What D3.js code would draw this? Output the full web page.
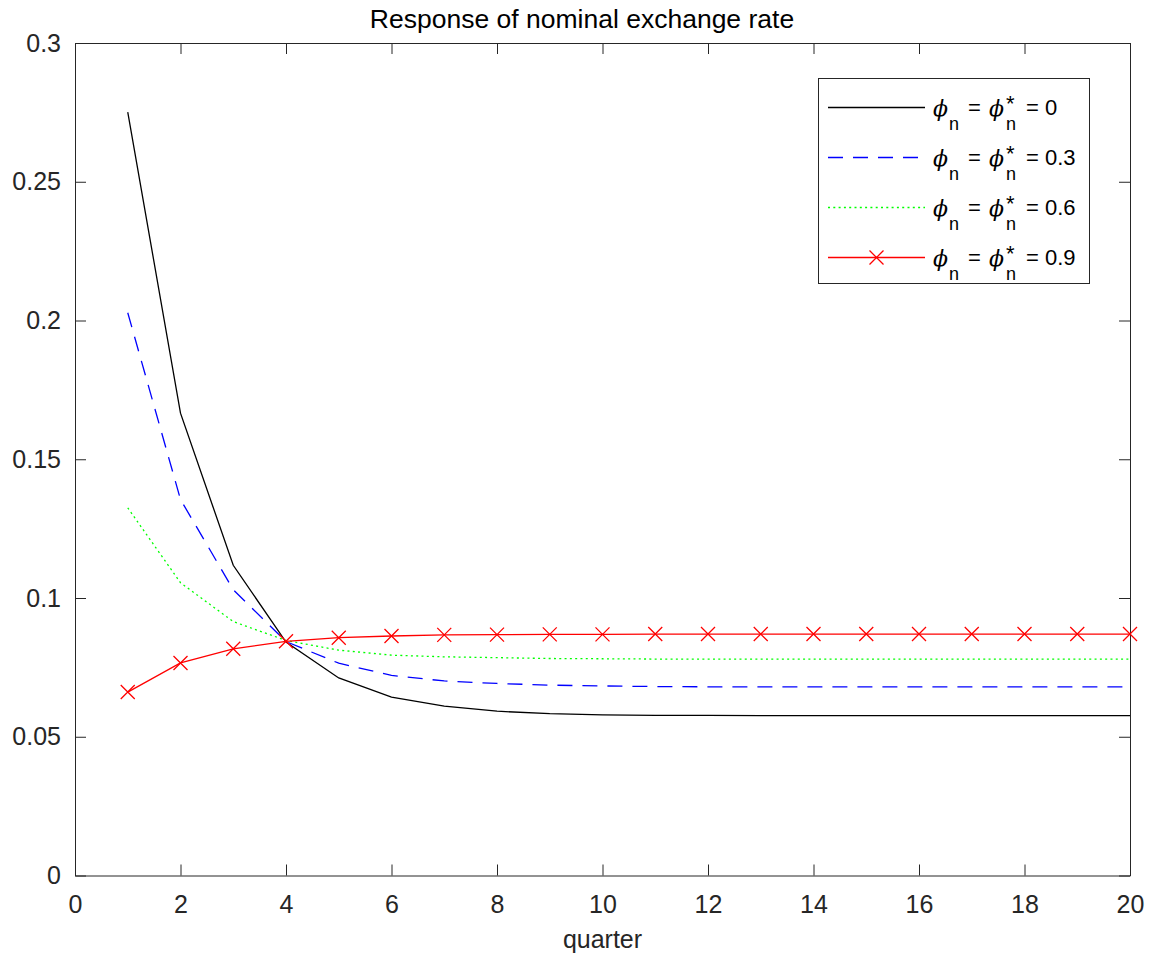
<!DOCTYPE html>
<html>
<head>
<meta charset="utf-8">
<script src="https://cdn.jsdelivr.net/npm/d3@7"></script>
<style>
	body { margin: 0; background: #fff; }
	text { font-family: "Liberation Sans", Arial, sans-serif; fill: #000; }
	.axis text { fill: #262626; font-size: 25px; }
	.axis path, .axis line { stroke: #262626; stroke-width: 1; }
</style>
</head>
<body>
<div id="chart"></div>
<script>
//data
var quarters = [1,2,3,4,5,6,7,8,9,10,11,12,13,14,15,16,17,18,19,20],
	phi0 = [0.2751, 0.1666, 0.1118, 0.0841, 0.0712, 0.0643, 0.0610, 0.0592, 0.0583, 0.0579, 0.0577, 0.0577, 0.0576, 0.0576, 0.0576, 0.0576, 0.0576, 0.0576, 0.0576, 0.0576],
	phi3 = [0.2028, 0.1355, 0.1030, 0.0843, 0.0765, 0.0721, 0.0701, 0.0692, 0.0686, 0.0683, 0.0681, 0.0680, 0.0680, 0.0680, 0.0680, 0.0680, 0.0680, 0.0680, 0.0680, 0.0680],
	phi6 = [0.1325, 0.1055, 0.0915, 0.0847, 0.0812, 0.0794, 0.0788, 0.0785, 0.0782, 0.0781, 0.0780, 0.0780, 0.0780, 0.0780, 0.0780, 0.0780, 0.0780, 0.0780, 0.0780, 0.0780],
	phi9 = [0.0661, 0.0766, 0.0817, 0.0844, 0.0857, 0.0863, 0.0867, 0.0868, 0.0869, 0.0869, 0.0870, 0.0870, 0.0870, 0.0870, 0.0870, 0.0870, 0.0870, 0.0870, 0.0870, 0.0870],
	seriesLabels = ["0", "0.3", "0.6", "0.9"],
	xTicks = [0,2,4,6,8,10,12,14,16,18,20],
	yTicks = [0, 0.05, 0.1, 0.15, 0.2, 0.25, 0.3];

var series = [
	{vals: phi0, color: "#000000", dash: null, marker: false},
	{vals: phi3, color: "#0000ff", dash: "15,10", marker: false},
	{vals: phi6, color: "#00ff00", dash: "2,3.3", marker: false},
	{vals: phi9, color: "#ff0000", dash: null, marker: true}
];

//frame
var chartWidth = 1154,
	chartHeight = 962,
	plotLeft = 75,
	plotRight = 1130,
	plotTop = 43,
	plotBottom = 875.5;

var x = d3.scaleLinear().domain([0, 20]).range([plotLeft, plotRight]);
var y = d3.scaleLinear().domain([0, 0.3]).range([plotBottom, plotTop]);

var svg = d3.select("#chart")
	.append("svg")
		.attr("width", chartWidth)
		.attr("height", chartHeight);

//axes, ticks point inward on all four sides
svg.append("g")
	.attr("class", "axis")
	.attr("transform", "translate(0," + plotBottom + ")")
	.call(d3.axisBottom(x).tickValues(xTicks).tickSize(-11).tickSizeOuter(0).tickPadding(20));
svg.append("g")
	.attr("class", "axis")
	.attr("transform", "translate(0," + plotTop + ")")
	.call(d3.axisTop(x).tickValues(xTicks).tickSize(-11).tickSizeOuter(0).tickFormat(""));
svg.append("g")
	.attr("class", "axis")
	.attr("transform", "translate(" + plotLeft + ",0)")
	.call(d3.axisLeft(y).tickValues(yTicks).tickSize(-11).tickSizeOuter(0).tickPadding(14).tickFormat(d3.format("")));
svg.append("g")
	.attr("class", "axis")
	.attr("transform", "translate(" + plotRight + ",0)")
	.call(d3.axisRight(y).tickValues(yTicks).tickSize(-11).tickSizeOuter(0).tickFormat(""));

svg.selectAll(".axis text").attr("font-family", "Liberation Sans, Arial, sans-serif");

//title and x label
svg.append("text")
	.attr("x", 582)
	.attr("y", 28)
	.attr("text-anchor", "middle")
	.style("font-size", "26.5px")
	.text("Response of nominal exchange rate");

svg.append("text")
	.attr("x", (plotLeft + plotRight) / 2)
	.attr("y", 948)
	.attr("text-anchor", "middle")
	.style("font-size", "25px")
	.style("fill", "#262626")
	.text("quarter");

//lines
var line = d3.line()
	.x(function(d, i) { return x(quarters[i]); })
	.y(function(d) { return y(d); });

var xMark = "M-7,-7L7,7M-7,7L7,-7";

series.forEach(function(s) {
	svg.append("path")
		.datum(s.vals)
		.attr("d", line)
		.attr("fill", "none")
		.attr("stroke", s.color)
		.attr("stroke-width", 1.3)
		.attr("stroke-dasharray", s.dash);
	if (s.marker) {
		svg.selectAll(null)
			.data(s.vals)
			.enter()
			.append("path")
				.attr("d", xMark)
				.attr("transform", function(d, i) { return "translate(" + x(quarters[i]) + "," + y(d) + ")"; })
				.attr("fill", "none")
				.attr("stroke", s.color)
				.attr("stroke-width", 1.3);
	}
});

//legend
var legend = svg.append("g");
legend.append("rect")
	.attr("x", 818.5)
	.attr("y", 78.5)
	.attr("width", 271)
	.attr("height", 205)
	.attr("fill", "#fff")
	.attr("stroke", "#262626")
	.attr("stroke-width", 1);

series.forEach(function(s, i) {
	var ly = 107.5 + i * 50,
		b = ly + 7; //text baseline
	legend.append("line")
		.attr("x1", 828).attr("x2", 925)
		.attr("y1", ly).attr("y2", ly)
		.attr("stroke", s.color)
		.attr("stroke-width", 1.3)
		.attr("stroke-dasharray", s.dash);
	if (s.marker) {
		legend.append("path")
			.attr("d", xMark)
			.attr("transform", "translate(876.5," + ly + ")")
			.attr("fill", "none")
			.attr("stroke", s.color)
			.attr("stroke-width", 1.3);
	}
	var t = legend.append("g").style("font-size", "22px");
	t.append("text").attr("x", 933).attr("y", b + 1).style("font-family", "DejaVu Serif, serif").style("font-style", "italic").style("font-size", "22px").text("\u03d5");
	t.append("text").attr("x", 949).attr("y", b + 15).style("font-size", "18px").text("n");
	t.append("text").attr("x", 968).attr("y", b).text("=");
	t.append("text").attr("x", 989).attr("y", b + 1).style("font-family", "DejaVu Serif, serif").style("font-style", "italic").style("font-size", "22px").text("\u03d5");
	t.append("text").attr("x", 1006).attr("y", b - 4).style("font-size", "22px").text("*");
	t.append("text").attr("x", 1006).attr("y", b + 15).style("font-size", "18px").text("n");
	t.append("text").attr("x", 1026).attr("y", b).text("= " + seriesLabels[i]);
});
</script>
</body>
</html>
